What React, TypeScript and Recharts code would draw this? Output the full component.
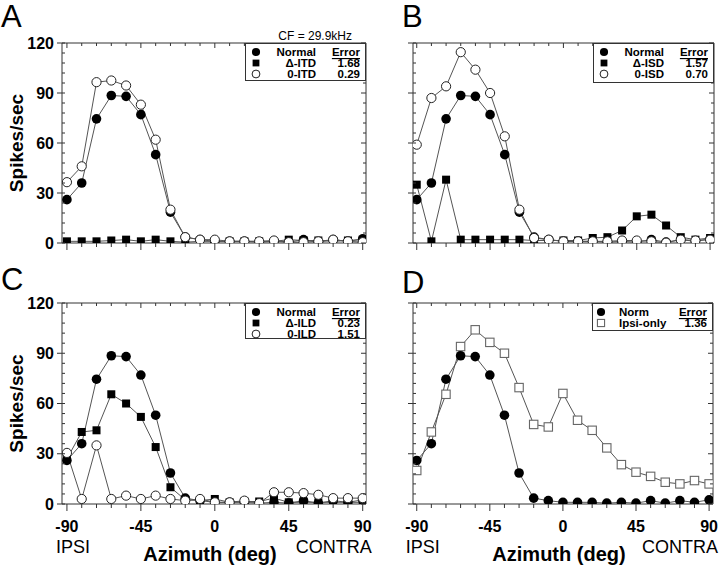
import { LineChart, Line, XAxis, YAxis, Label } from "recharts";

// azimuth of each speaker position (deg)
const AZIMUTH = [-90, -81, -72, -63, -54, -45, -36, -27, -18, -9, 0, 9, 18, 27, 36, 45, 54, 63, 72, 81, 90];
const Y_TICKS = [0, 6, 12, 18, 24, 30, 36, 42, 48, 54, 60, 66, 72, 78, 84, 90, 96, 102, 108, 114, 120];

// spikes/sec
const NORMAL = [26, 36, 74.5, 88.5, 88, 77, 53, 18.5, 3.5, 2, 1, 1, 1, 0.5, 1, 0.5, 2, 0.5, 2, 1, 2.5];
const ITD_DELTA = [1, 1, 1, 1.5, 2, 1, 2, 1, 0.5, 1, 1, 1, 1, 1, 1, 2, 1.5, 1.5, 1, 1.5, 2];
const ITD_ZERO = [36.5, 46, 96.5, 97.5, 94.5, 83, 62, 20, 3.5, 2, 2, 1, 1, 1, 1.5, 0.5, 0.5, 1, 2, 1, 0.5];
const ISD_DELTA = [35, 1, 38, 2, 2, 2, 2, 2, 1.5, 1.5, 1.5, 1.5, 3, 3.5, 7.5, 16, 17, 10.5, 3.5, 2, 3];
const ISD_ZERO = [59, 87, 94, 114.5, 104, 90, 64, 20, 3, 2, 1, 1, 1, 1, 1.5, 1.5, 1, 0.2, 2, 1.5, 2];
const ILD_DELTA = [27, 43, 44, 65.5, 60, 52, 34, 10, 2.5, 2, 3, 1, 1.5, 1.5, 3.5, 1, 1, 1, 1, 1, 1];
const ILD_ZERO = [30.5, 3, 35, 3, 5, 3, 5, 3, 2, 3, 1, 1, 2, 0.5, 7, 7, 6.5, 5.5, 3.5, 3.5, 3.5];
const IPSI_ONLY = [20, 43, 65.5, 94, 104, 96.5, 90, 69.5, 47.5, 46, 66, 50, 44, 33.5, 23.5, 19, 16.5, 13, 12, 14, 12];

const FONT = "'Liberation Sans', Arial, Helvetica, sans-serif";
const INK = "#333";

type Shape = "dot" | "square" | "ring" | "box";

function Marker({ shape, cx, cy, s = 1 }: { shape: Shape; cx: number; cy: number; s?: number }) {
  if (shape === "dot") return <circle cx={cx} cy={cy} r={4.8 * s} fill="#000" />;
  if (shape === "ring")
    return <circle cx={cx} cy={cy} r={4.6 * s} fill="#fff" stroke="#222" strokeWidth={1} />;
  if (shape === "square")
    return <rect x={cx - 4 * s} y={cy - 4 * s} width={8 * s} height={8 * s} fill="#000" />;
  return (
    <rect x={cx - 4.2 * s} y={cy - 4.2 * s} width={8.4 * s} height={8.4 * s} fill="#fff" stroke="#666" strokeWidth={1.1} />
  );
}

const dotFor = (shape: Shape) => (p: any) =>
  <Marker key={`${shape}-${p.index}`} shape={shape} cx={p.cx} cy={p.cy} />;

type Series = { name: string; values: number[]; shape: Shape };
type Panel = {
  id: string;
  left: number;
  top: number;
  width: number;
  height: number;
  plot: { l: number; r: number; t: number; b: number };
  domain: [number, number];
  yLabels: boolean;
  xLabels: boolean;
  draw: Series[]; // drawing order
  legend: { rows: Series[]; errors: string[]; box: [number, number, number, number]; leftAlign?: boolean };
};

const sNormal: Series = { name: "Normal", values: NORMAL, shape: "dot" };

const PANELS: Panel[] = [
  {
    id: "A", left: 0, top: 0, width: 385, height: 260,
    plot: { l: 62, r: 366, t: 43, b: 243 }, domain: [-93, 92],
    yLabels: true, xLabels: false,
    draw: [sNormal, { name: "\u0394-ITD", values: ITD_DELTA, shape: "square" }, { name: "0-ITD", values: ITD_ZERO, shape: "ring" }],
    legend: { rows: [], errors: ["1.68", "0.29"], box: [245, 43, 121, 38] },
  },
  {
    id: "B", left: 360, top: 0, width: 360, height: 260,
    plot: { l: 413, r: 714, t: 43, b: 243 }, domain: [-92.3, 92.4],
    yLabels: false, xLabels: false,
    draw: [sNormal, { name: "\u0394-ISD", values: ISD_DELTA, shape: "square" }, { name: "0-ISD", values: ISD_ZERO, shape: "ring" }],
    legend: { rows: [], errors: ["1.57", "0.70"], box: [593, 43, 121, 40] },
  },
  {
    id: "C", left: 0, top: 260, width: 385, height: 306,
    plot: { l: 62, r: 366, t: 303, b: 504 }, domain: [-93, 92],
    yLabels: true, xLabels: true,
    draw: [sNormal, { name: "\u0394-ILD", values: ILD_DELTA, shape: "square" }, { name: "0-ILD", values: ILD_ZERO, shape: "ring" }],
    legend: { rows: [], errors: ["0.23", "1.51"], box: [245, 303, 121, 36] },
  },
  {
    id: "D", left: 360, top: 260, width: 360, height: 306,
    plot: { l: 413, r: 713, t: 303, b: 504 }, domain: [-92.3, 92.4],
    yLabels: false, xLabels: true,
    draw: [{ name: "Ipsi-only", values: IPSI_ONLY, shape: "box" }, { name: "Norm", values: NORMAL, shape: "dot" }],
    legend: { rows: [], errors: ["1.36"], box: [592, 303, 121, 28], leftAlign: true },
  },
];
// legend rows follow the picture: Normal first
PANELS.forEach((p) => {
  p.legend.rows = p.id === "D" ? [p.draw[1], p.draw[0]] : p.draw;
});

const leftTick = (labels: boolean) => (p: any) => {
  const v = p.payload.value;
  const major = v % 30 === 0;
  return (
    <g>
      <line x1={major ? p.x - 5 : p.x} x2={p.x + 3} y1={p.y} y2={p.y} stroke={INK} />
      {labels && major && (
        <text x={p.x - 8} y={p.y} textAnchor="end" dominantBaseline="central" fontSize={16} fontWeight="bold" fill="#000">
          {v}
        </text>
      )}
    </g>
  );
};

const rightTick = (p: any) => {
  const major = p.payload.value % 30 === 0;
  return <line x1={p.x - (major ? 5 : 3)} x2={p.x} y1={p.y} y2={p.y} stroke={INK} />;
};

const topTick = (p: any) => {
  const major = p.payload.value % 45 === 0;
  return <line x1={p.x} x2={p.x} y1={p.y} y2={p.y + (major ? 5 : 3)} stroke={INK} />;
};

const bottomTick = (labels: boolean) => (p: any) => {
  const v = p.payload.value;
  const major = v % 45 === 0;
  return (
    <g>
      <line x1={p.x} x2={p.x} y1={p.y} y2={p.y + (major ? 7 : 4)} stroke={INK} />
      {labels && major && (
        <text x={p.x} y={p.y + 22} textAnchor="middle" dominantBaseline="central" fontSize={16} fontWeight="bold" fill="#000">
          {v}
        </text>
      )}
      {labels && v === -90 && (
        <text x={p.x - 11} y={p.y + 43} dominantBaseline="central" fontSize={18} fill="#000">IPSI</text>
      )}
      {labels && v === 90 && (
        <text x={p.x + 9} y={p.y + 43} textAnchor="end" dominantBaseline="central" fontSize={18} fill="#000">CONTRA</text>
      )}
    </g>
  );
};

function LegendBox({ panel }: { panel: Panel }) {
  const [x, y, w, h] = panel.legend.box;
  const left = !!panel.legend.leftAlign;
  const rowY = (i: number) => 9 + i * 11;
  return (
    <svg style={{ position: "absolute", left: x, top: y }} width={w} height={h}>
      <rect x={0.5} y={0.5} width={w - 1} height={h - 1} fill="#fff" stroke={INK} />
      {panel.legend.rows.map((s, i) => (
        <g key={s.name}>
          <Marker shape={s.shape} cx={left ? 9 : 11} cy={rowY(i)} s={0.85} />
          <text
            x={left ? 27 : 71}
            y={rowY(i)}
            textAnchor={left ? "start" : "end"}
            dominantBaseline="central"
            fontSize={11.5}
            fontWeight="bold"
          >
            {s.name}
          </text>
          {i > 0 && (
            <text x={w - 6} y={rowY(i)} textAnchor="end" dominantBaseline="central" fontSize={11.5} fontWeight="bold">
              {panel.legend.errors[i - 1]}
            </text>
          )}
        </g>
      ))}
      <text x={w - 6} y={rowY(0)} textAnchor="end" dominantBaseline="central" fontSize={11.5} fontWeight="bold" textDecoration="underline">
        Error
      </text>
    </svg>
  );
}

function PanelChart({ panel }: { panel: Panel }) {
  const { left, top, width, height, plot } = panel;
  const data = AZIMUTH.map((az, i) => {
    const row: Record<string, number> = { az };
    panel.draw.forEach((s, k) => (row[`s${k}`] = s.values[i]));
    return row;
  });
  return (
    <div style={{ position: "absolute", left, top }}>
      <LineChart width={width} height={height} data={data} margin={{ top: 0, right: 0, bottom: 0, left: 0 }}>
        <XAxis
          xAxisId="top"
          orientation="top"
          type="number"
          dataKey="az"
          domain={panel.domain}
          allowDataOverflow
          ticks={AZIMUTH}
          interval={0}
          height={plot.t - top}
          tickSize={0}
          tickMargin={0}
          tick={topTick}
          axisLine={{ stroke: INK }}
        />
        <XAxis
          type="number"
          dataKey="az"
          domain={panel.domain}
          allowDataOverflow
          ticks={AZIMUTH}
          interval={0}
          height={top + height - plot.b}
          tickSize={0}
          tickMargin={0}
          tick={bottomTick(panel.xLabels)}
          axisLine={{ stroke: INK }}
        >
          {panel.xLabels && (
            <Label
              value="Azimuth (deg)"
              position="insideBottom"
              offset={5}
              dx={-4}
              style={{ fontSize: 20, fontWeight: "bold", fill: "#000", fontFamily: FONT }}
            />
          )}
        </XAxis>
        <YAxis
          type="number"
          domain={[0, 120]}
          allowDataOverflow
          ticks={Y_TICKS}
          interval={0}
          width={plot.l - left}
          tickSize={0}
          tickMargin={0}
          tick={leftTick(panel.yLabels)}
          axisLine={{ stroke: INK }}
        >
          {panel.yLabels && (
            <Label
              value="Spikes/sec"
              angle={-90}
              position="insideLeft"
              offset={16}
              style={{ fontSize: 19, fontWeight: "bold", fill: "#000", textAnchor: "middle", fontFamily: FONT }}
            />
          )}
        </YAxis>
        <YAxis
          yAxisId="right"
          orientation="right"
          type="number"
          domain={[0, 120]}
          allowDataOverflow
          ticks={Y_TICKS}
          interval={0}
          width={left + width - plot.r}
          tickSize={0}
          tickMargin={0}
          tick={rightTick}
          axisLine={{ stroke: INK }}
        />
        {panel.draw.map((s, k) => (
          <Line
            key={s.name}
            dataKey={`s${k}`}
            stroke="#555"
            strokeWidth={1}
            dot={dotFor(s.shape)}
            activeDot={false}
            isAnimationActive={false}
          />
        ))}
      </LineChart>
    </div>
  );
}

export default function App() {
  return (
    <div
      style={{
        position: "absolute",
        left: 0,
        top: 0,
        width: 720,
        height: 566,
        background: "#fff",
        fontFamily: FONT,
        overflow: "hidden",
      }}
    >
      {PANELS.map((p) => (
        <PanelChart key={p.id} panel={p} />
      ))}
      {PANELS.map((p) => (
        <LegendBox key={`lg-${p.id}`} panel={p} />
      ))}
      <svg style={{ position: "absolute", left: 0, top: 0, pointerEvents: "none" }} width={720} height={566}>
        <g fontFamily={FONT} fontSize={31} fill="#000">
          <text x={1} y={27}>A</text>
          <text x={402} y={27}>B</text>
          <text x={1} y={290}>C</text>
          <text x={402} y={293}>D</text>
        </g>
        <text x={352} y={40} textAnchor="end" fontFamily={FONT} fontSize={12} fill="#000">
          CF = 29.9kHz
        </text>
      </svg>
    </div>
  );
}
